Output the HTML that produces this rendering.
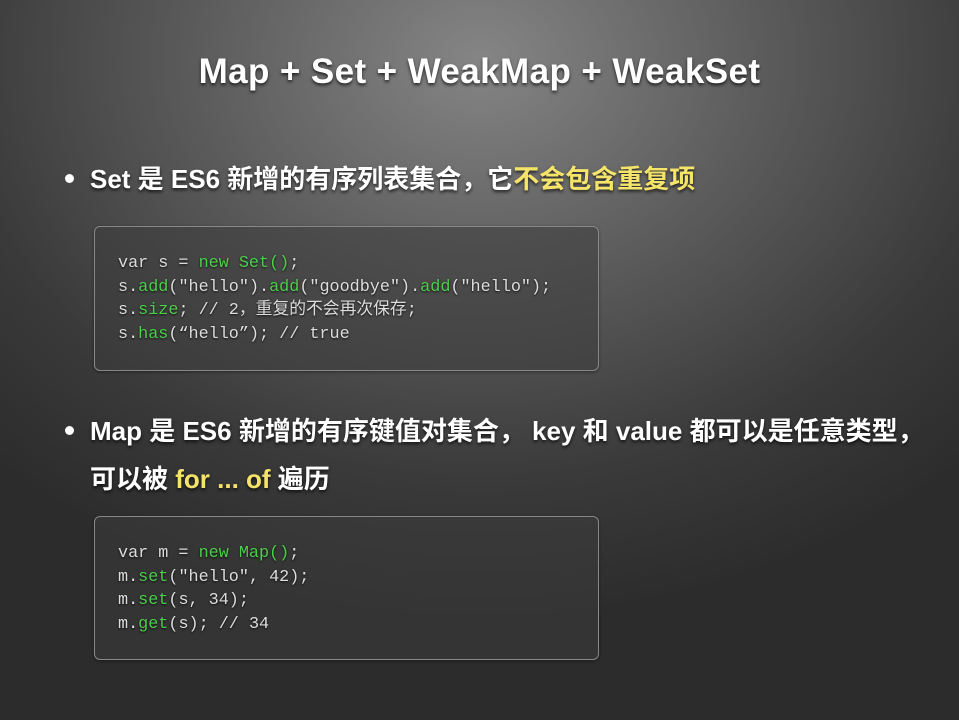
<!DOCTYPE html>
<html><head><meta charset="utf-8"><style>
body{margin:0;width:959px;height:720px;overflow:hidden;background:radial-gradient(ellipse 700px 560px at 480px 60px,#858585 0%,#5c5c5c 40%,#3a3a3a 75%,#2c2c2c 100%);font-family:"Liberation Sans","Noto Sans CJK SC",sans-serif;color:#fff;position:relative}
.t{position:absolute;text-shadow:0 2px 3px rgba(0,0,0,.7)}
.title{left:0;width:959px;text-align:center;top:52px;font-size:35px;font-weight:bold;letter-spacing:0.4px}
.b{font-size:26px;font-weight:bold;left:90px;white-space:nowrap}
.dot{position:absolute;width:9px;height:9px;border-radius:50%;background:#fff;left:65px}
.y{color:#f4e46a}
.box{position:absolute;left:94px;width:503px;border:1px solid #888;border-radius:6px;background:rgba(60,60,60,.55);box-shadow:0 1px 3px rgba(0,0,0,.4)}
pre{margin:0;position:absolute;left:118px;font-family:"Liberation Mono","Noto Sans CJK SC",monospace;font-size:16.8px;line-height:23.5px;color:#ddd;text-shadow:0 1px 2px rgba(0,0,0,.8)}
.g{color:#4ccf4c}
</style></head><body>
<div class="t title">Map + Set + WeakMap + WeakSet</div>
<div class="dot" style="top:174px"></div>
<div class="t b" style="top:159px">Set 是 ES6 新增的有序列表集合，它<span class="y">不会包含重复项</span></div>
<div class="box" style="top:226px;height:143px"></div>
<pre style="top:252px">var s = <span class="g">new Set()</span>;
s.<span class="g">add</span>("hello").<span class="g">add</span>("goodbye").<span class="g">add</span>("hello");
s.<span class="g">size</span>; // 2，重复的不会再次保存;
s.<span class="g">has</span>(“hello”); // true</pre>
<div class="dot" style="top:426px"></div>
<div class="t b" style="top:411px">Map 是 ES6 新增的有序键值对集合， key 和 value 都可以是任意类型，</div>
<div class="t b" style="top:459px">可以被 <span class="y">for ... of</span> 遍历</div>
<div class="box" style="top:516px;height:142px"></div>
<pre style="top:542px">var m = <span class="g">new Map()</span>;
m.<span class="g">set</span>("hello", 42);
m.<span class="g">set</span>(s, 34);
m.<span class="g">get</span>(s); // 34</pre>
</body></html>
